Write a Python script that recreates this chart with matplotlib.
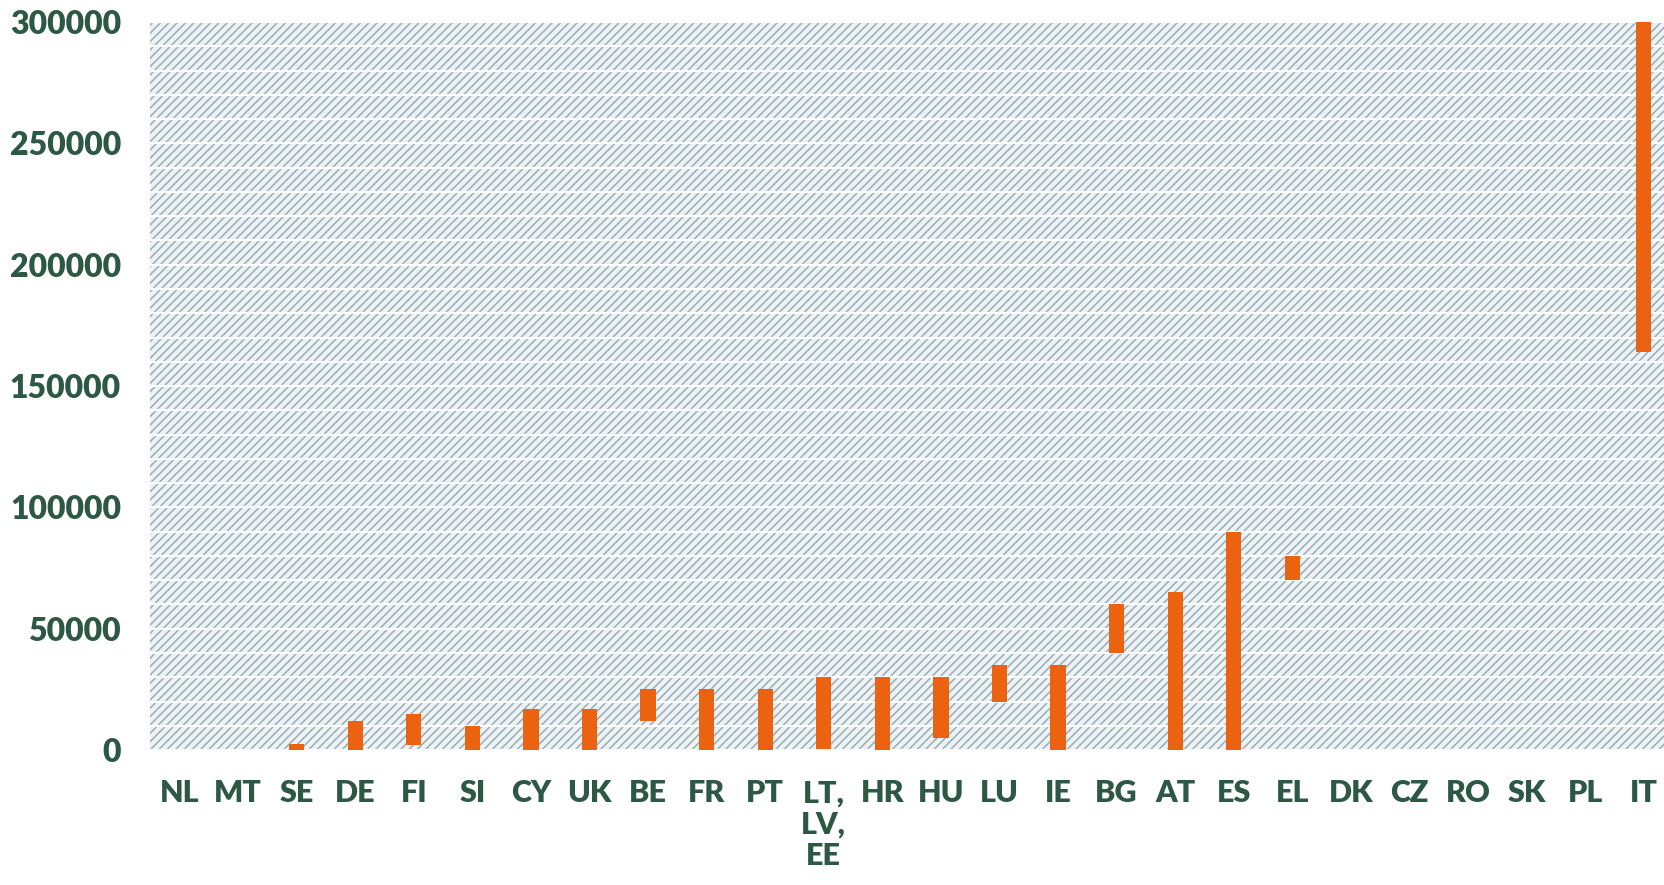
import numpy as np
import matplotlib.pyplot as plt
from matplotlib.patches import Rectangle

countries = ['NL', 'MT', 'SE', 'DE', 'FI', 'SI', 'CY', 'UK', 'BE', 'FR', 'PT',
             'LT,\nLV,\nEE', 'HR', 'HU', 'LU', 'IE', 'BG', 'AT', 'ES', 'EL',
             'DK', 'CZ', 'RO', 'SK', 'PL', 'IT']
# lower and upper end of each range
low = [0, 0, 0, 0, 2000, 0, 0, 0, 12000, 0, 0,
       500, 0, 5000, 20000, 0, 40000, 0, 0, 70000,
       0, 0, 0, 0, 0, 164000]
high = [0, 0, 2500, 12000, 15000, 10000, 17000, 17000, 25000, 25000, 25000,
        30000, 30000, 30000, 35000, 35000, 60000, 65000, 90000, 80000,
        0, 0, 0, 0, 0, 300000]
y_ticks = [0, 50000, 100000, 150000, 200000, 250000, 300000]

ORANGE = '#EB6310'
GREEN = '#2C5844'
HATCH = '#8DB1BF'

plt.rcParams['font.family'] = ['Lato', 'DejaVu Sans']
plt.rcParams['hatch.linewidth'] = 1.1

fig = plt.figure(figsize=(16.65, 8.85), dpi=100)
# plot area runs slightly past the right edge of the image
ax = fig.add_axes([0.0902, 0.1525, 0.9147, 0.8225])

# hatched background
ax.set_facecolor('#F1F1F1')
ax.add_patch(Rectangle((0, 0), 1, 1, transform=ax.transAxes, fill=False,
                       hatch='////', edgecolor=HATCH, linewidth=0, zorder=0.2))

x = np.arange(len(countries))
heights = np.array(high) - np.array(low)
ax.bar(x, heights, bottom=low, width=0.26, color=ORANGE, zorder=2)

ax.set_xlim(-0.5, len(countries) - 0.5)
ax.set_ylim(0, 300000)

# white grid lines every 10000
ax.set_yticks(np.arange(0, 300001, 10000), minor=True)
ax.grid(axis='y', which='both', color='white', linewidth=1.6)
ax.set_axisbelow(True)

ax.set_yticks(y_ticks)
ax.set_yticklabels([str(v) for v in y_ticks])
ax.set_xticks(x)
ax.set_xticklabels(countries, linespacing=1.15)

for s in ax.spines.values():
    s.set_visible(False)
ax.tick_params(axis='both', which='both', length=0)
ax.tick_params(axis='y', pad=21, labelsize=23, labelcolor=GREEN)
ax.tick_params(axis='x', pad=21, labelsize=22, labelcolor=GREEN)
for lbl in ax.get_xticklabels() + ax.get_yticklabels():
    lbl.set_fontweight('heavy')

plt.savefig('out.png', dpi=100)
